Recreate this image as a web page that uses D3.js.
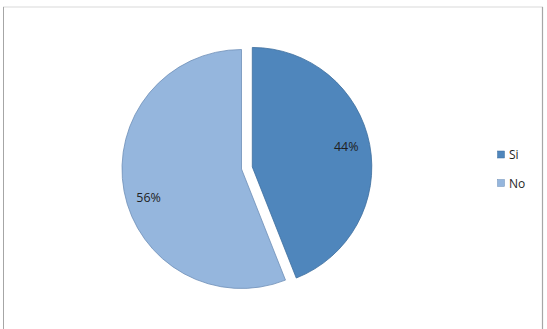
<!DOCTYPE html>
<html><head><meta charset="utf-8">
<script src="https://cdn.jsdelivr.net/npm/d3@7"></script>
<style>body{margin:0;background:#fff}svg{display:block}</style>
</head><body>
<script>
const categories = ["Si", "No"];
const values = [44, 56];
const labels = ["44%", "56%"];
const colors = ["#4F86BC", "#95B6DD"];
const strokes = ["#3E6E9E", "#6F8FB8"];

const W = 547, H = 329;
const svg = d3.select("body").append("svg").attr("width", W).attr("height", H);
svg.append("rect").attr("x", 3.5).attr("y", 7).attr("width", 539).attr("height", 330)
  .attr("fill", "#fff").attr("stroke", "#D9D9D9").attr("stroke-width", 1);
svg.append("line").attr("x1", 3.5).attr("x2", 3.5).attr("y1", 7).attr("y2", H)
  .attr("stroke", "#A6A6A6").attr("stroke-width", 1);
svg.append("line").attr("x1", 542.5).attr("x2", 542.5).attr("y1", 7).attr("y2", H)
  .attr("stroke", "#A6A6A6").attr("stroke-width", 1.2);

const cx = 241.5, cy = 169, r = 119.5, explode = 11;
const pie = d3.pie().sort(null).value(d => d)(values);
const arc = d3.arc().innerRadius(0).outerRadius(r);
const g = svg.append("g").attr("transform", `translate(${cx},${cy})`);
const labelShift = [[0, -2], [1, 11]];
pie.forEach((p, i) => {
  const mid = (p.startAngle + p.endAngle) / 2;
  const off = i === 0 ? explode : 0;
  const dx = Math.sin(mid) * off, dy = -Math.cos(mid) * off;
  const sg = g.append("g").attr("transform", `translate(${dx},${dy})`);
  sg.append("path").attr("d", arc(p)).attr("fill", colors[i])
    .attr("stroke", strokes[i]).attr("stroke-width", 0.8);
  const lr = r * 0.8;
  const lx = Math.sin(mid) * lr + labelShift[i][0], ly = -Math.cos(mid) * lr + labelShift[i][1];
  sg.append("text").attr("x", lx).attr("y", ly).attr("dy", "0.35em")
    .attr("text-anchor", "middle").attr("font-family", "Open Sans, sans-serif")
    .attr("font-size", 12.5).attr("fill", "#1F1F1F").text(labels[i]);
});

const leg = svg.append("g");
categories.forEach((c, i) => {
  const y = 151 + i * 28.5;
  leg.append("rect").attr("x", 497.5).attr("y", y).attr("width", 7).attr("height", 7)
    .attr("fill", colors[i]).attr("stroke", strokes[i]).attr("stroke-width", 0.5);
  leg.append("text").attr("x", 509).attr("y", y + 4).attr("dy", "0.35em")
    .attr("font-family", "Open Sans, sans-serif").attr("font-size", 12)
    .attr("fill", "#1F1F1F").text(c);
});
</script>
</body></html>
